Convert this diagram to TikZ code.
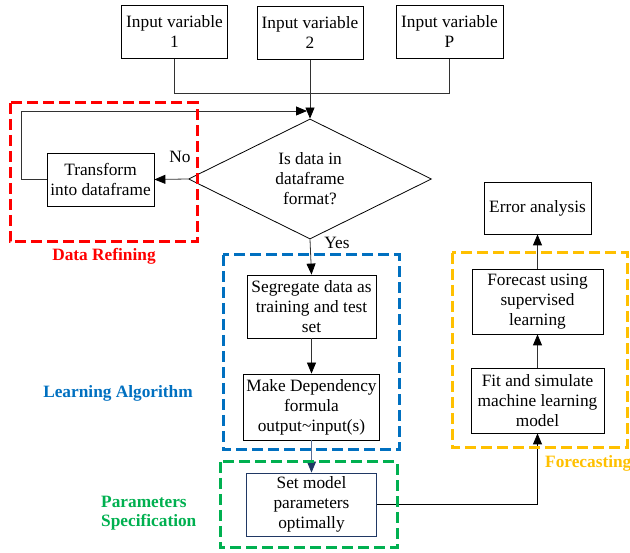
\documentclass[tikz,border=0pt]{standalone}
\usepackage{fontspec}
\setmainfont{Liberation Serif}
\usetikzlibrary{shapes.geometric,arrows.meta}
\definecolor{rfc}{RGB}{255,0,0}
\definecolor{lac}{RGB}{0,112,192}
\definecolor{psc}{RGB}{0,176,80}
\definecolor{fcc}{RGB}{255,192,0}
\definecolor{navyc}{RGB}{32,56,100}
\definecolor{linec}{RGB}{50,50,50}
\definecolor{bluegray}{RGB}{90,110,150}
\begin{document}
\begin{tikzpicture}[x=1pt,y=-1pt,
  font=\fontsize{17.3}{20}\selectfont,
  box/.style={draw=black, line width=0.8pt, align=center, inner sep=0pt},
  dia/.style={draw=black, line width=0.8pt, diamond, aspect=2.03, align=center, inner sep=0pt,
    minimum width=243pt, minimum height=120pt},
  conn/.style={line width=0.8pt, draw=linec},
  arr/.style={conn, -{Triangle[length=11pt,width=9pt,color=black]}},
  grp/.style={line width=3pt, dash pattern=on 11pt off 5pt},
  lab/.style={font=\fontsize{17.3}{19}\selectfont\bfseries, inner sep=0pt}
]
\useasboundingbox (0,0) rectangle (630,553);

% input boxes
\node[box, minimum width=106pt, minimum height=53pt] (in1) at (174.5,32) {Input variable\\1};
\node[box, minimum width=106pt, minimum height=53pt] (in2) at (310,33) {Input variable\\2};
\node[box, minimum width=107pt, minimum height=53pt] (inP) at (449.5,32) {Input variable\\P};

% decision
\node[dia] (dq) at (310,179) {Is data in\\dataframe\\format?};

% refining
\node[box, minimum width=107pt, minimum height=53pt] (trans) at (100.5,179.5) {Transform\\into dataframe};

% learning
\node[box, minimum width=129pt, minimum height=63pt] (seg) at (311.5,306.5) {Segregate data as\\training and test\\set};
\node[box, minimum width=136pt, minimum height=66pt] (make) at (311.5,407) {Make Dependency\\formula\\output\textasciitilde input(s)};

% parameters
\node[box, draw=navyc, minimum width=130pt, minimum height=63pt] (set) at (311.5,504.5) {Set model\\parameters\\optimally};

% forecasting
\node[box, minimum width=107pt, minimum height=52pt] (err) at (537.5,208) {Error analysis};
\node[box, minimum width=131pt, minimum height=65pt] (fore) at (537.5,301.5) {Forecast using\\supervised\\learning};
\node[box, minimum width=133pt, minimum height=65pt] (fit) at (537.5,400.5) {Fit and simulate\\machine learning\\model};

% connectors
\draw[conn] (in1.south) -- ++(0,34.5) -| (inP.south);
\draw[arr] (in2.south) -- (dq.north);
\draw[arr] (dq.west) -- (trans.east);
\coordinate (loopL) at (21,179.5);
\coordinate (loopE) at (307,111);
\draw[arr] (trans.west) -- (loopL) |- (loopE);
\draw[arr] (dq.south) -- (seg.north);
\draw[arr] (seg.south) -- (make.north);
\draw[line width=0.8pt, draw=bluegray, -{Triangle[length=11pt,width=9pt,color=navyc]}] (make.south) -- (set.north);
\draw[line width=0.8pt, draw=black, -{Triangle[length=11pt,width=9pt]}] (set.east) -| (fit.south);
\draw[arr] (fit.north) -- (fore.south);
\draw[arr] (fore.north) -- (err.south);

% labels
\node[inner sep=0pt] (no) at (180,157) {No};
\node[inner sep=0pt] (yes) at (337,243) {Yes};

% groups
\draw[grp, draw=rfc] (10,103) rectangle (197,242);
\draw[grp, draw=lac] (223,255) rectangle (399,450);
\draw[grp, draw=psc] (220,462) rectangle (397,548);
\draw[grp, draw=fcc] (452,253) rectangle (627,448);

\node[lab, text=rfc] (lrf) at (104,256) {Data Refining};
\node[lab, text=lac] (lla) at (118,393) {Learning Algorithm};
\node[lab, text=psc, align=left, anchor=west] (lps) at (101,513) {Parameters\\Specification};
\node[lab, text=fcc, anchor=west] (lfc) at (545,463) {Forecasting};
\end{tikzpicture}
\end{document}
